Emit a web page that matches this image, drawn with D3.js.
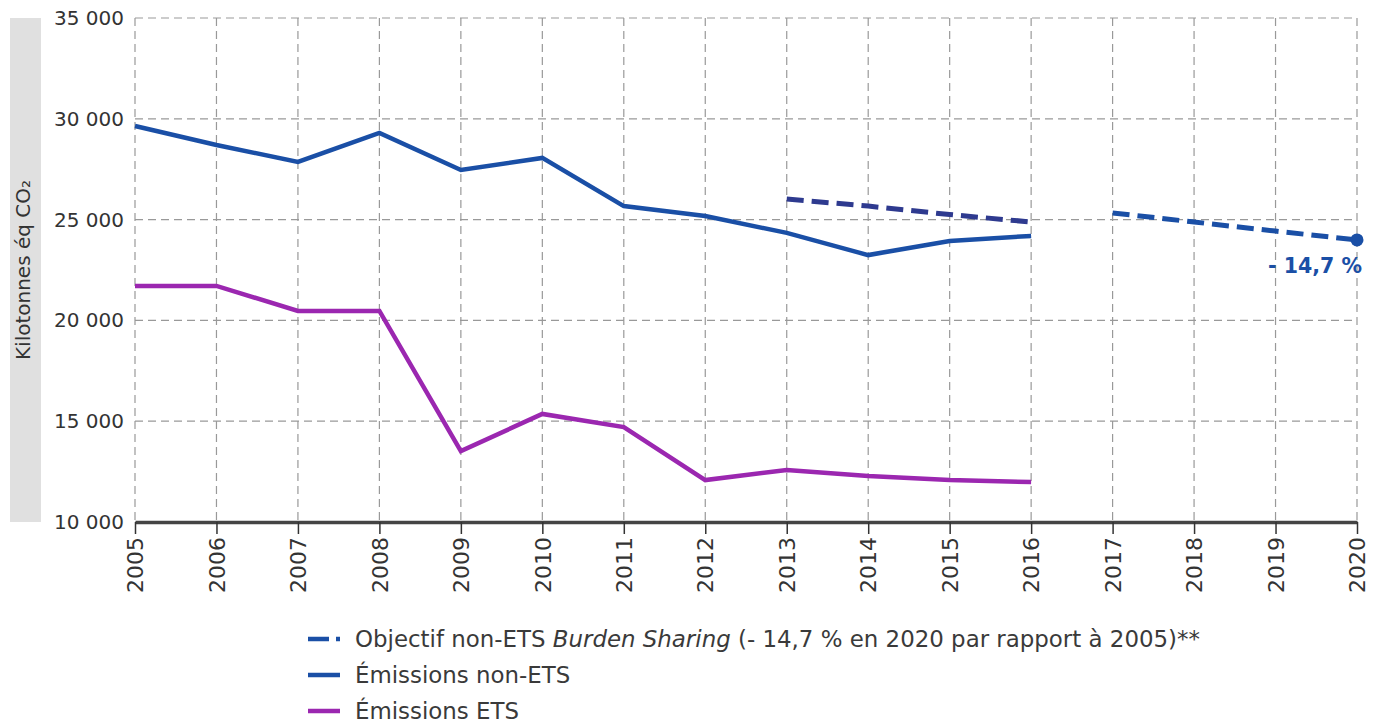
<!DOCTYPE html>
<html>
<head>
<meta charset="utf-8">
<script src="https://cdn.jsdelivr.net/npm/d3@7"></script>
<style>
  body { margin: 0; background: #fff; }
  svg { font-family: "DejaVu Sans", sans-serif; }
</style>
</head>
<body>
<svg id="chart" width="1380" height="723"></svg>
<script>
var years = [2005, 2006, 2007, 2008, 2009, 2010, 2011, 2012, 2013, 2014, 2015, 2016, 2017, 2018, 2019, 2020];
var yTicks = [10000, 15000, 20000, 25000, 30000, 35000];

var nonEtsYears = [2005, 2006, 2007, 2008, 2009, 2010, 2011, 2012, 2013, 2014, 2015, 2016];
var nonEts = [29640, 28700, 27860, 29300, 27460, 28060, 25670, 25180, 24340, 23240, 23940, 24190];
var ets = [21710, 21710, 20470, 20470, 13520, 15360, 14710, 12080, 12580, 12280, 12080, 11980];

var targetYearsA = [2013, 2014, 2015, 2016];
var targetA = [26020, 25670, 25250, 24880];
var targetYearsB = [2017, 2018, 2019, 2020];
var targetB = [25330, 24880, 24430, 23990];

var svg = d3.select("#chart");
var plotLeft = 135, plotRight = 1357, plotTop = 18, plotBottom = 522;

var x = d3.scaleLinear().domain([2005, 2020]).range([plotLeft, plotRight]);
var y = d3.scaleLinear().domain([10000, 35000]).range([plotBottom, plotTop]);
var fmt = function (d) { return d3.format(",")(d).replace(",", " "); };

// y title band
svg.append("rect").attr("x", 10).attr("y", plotTop).attr("width", 31).attr("height", plotBottom - plotTop).attr("fill", "#e0e0e0");
svg.append("text")
    .attr("transform", "translate(30," + 270 + ") rotate(-90)")
    .attr("text-anchor", "middle").attr("font-size", 20).attr("fill", "#333")
    .text("Kilotonnes éq CO₂");

// grid
svg.append("g").selectAll("line").data(yTicks.slice(1)).enter().append("line")
    .attr("x1", plotLeft).attr("x2", plotRight)
    .attr("y1", function (d) { return y(d); }).attr("y2", function (d) { return y(d); })
    .attr("stroke", "#999").attr("stroke-width", 1.2).attr("stroke-dasharray", "8,5");
svg.append("g").selectAll("line").data(years).enter().append("line")
    .attr("x1", function (d) { return x(d); }).attr("x2", function (d) { return x(d); })
    .attr("y1", plotTop).attr("y2", plotBottom)
    .attr("stroke", "#999").attr("stroke-width", 1.2).attr("stroke-dasharray", "8,5");

// y tick labels
svg.append("g").selectAll("text").data(yTicks).enter().append("text")
    .attr("x", plotLeft - 11).attr("y", function (d) { return y(d); }).attr("dy", "0.35em")
    .attr("text-anchor", "end").attr("font-size", 20).attr("fill", "#333")
    .text(fmt);

// x axis
var xAxis = svg.append("g").attr("transform", "translate(0," + plotBottom + ")")
    .call(d3.axisBottom(x).tickValues(years).tickFormat(d3.format("d")).tickSize(12).tickSizeOuter(0));
xAxis.select(".domain").attr("stroke", "#444").attr("stroke-width", 3.5);
xAxis.selectAll(".tick line").attr("stroke", "#333").attr("stroke-width", 1.5);
xAxis.selectAll(".tick text")
    .attr("font-size", 22).attr("font-family", "DejaVu Sans").attr("fill", "#333")
    .attr("transform", "rotate(-90)").attr("text-anchor", "end")
    .attr("x", -15).attr("y", 0).attr("dy", "0.35em");

var line = d3.line().x(function (d) { return x(d[0]); }).y(function (d) { return y(d[1]); });

svg.append("path").datum(d3.zip(nonEtsYears, ets)).attr("d", line)
    .attr("fill", "none").attr("stroke", "#9b27b0").attr("stroke-width", 4.5);
svg.append("path").datum(d3.zip(nonEtsYears, nonEts)).attr("d", line)
    .attr("fill", "none").attr("stroke", "#1a4fa6").attr("stroke-width", 4.5);
svg.append("path").datum(d3.zip(targetYearsA, targetA)).attr("d", line)
    .attr("fill", "none").attr("stroke", "#2e3a8f").attr("stroke-width", 5).attr("stroke-dasharray", "17,8");
svg.append("path").datum(d3.zip(targetYearsB, targetB)).attr("d", line)
    .attr("fill", "none").attr("stroke", "#1a4fa6").attr("stroke-width", 5).attr("stroke-dasharray", "17,8");

svg.append("circle").attr("cx", x(2020)).attr("cy", y(targetB[targetB.length - 1])).attr("r", 6.5).attr("fill", "#1a4fa6");
svg.append("text").attr("x", x(2020) + 5).attr("y", y(targetB[targetB.length - 1]) + 33)
    .attr("text-anchor", "end").attr("font-size", 20.5).attr("font-weight", "bold").attr("fill", "#1a4fa6")
    .text("- 14,7 %");

// legend
var legend = [
    { dash: "21,7,4", color: "#1a4fa6", parts: [["Objectif non-ETS ", false], ["Burden Sharing", true], [" (- 14,7 % en 2020 par rapport à 2005)**", false]] },
    { dash: null, color: "#1a4fa6", parts: [["Émissions non-ETS", false]] },
    { dash: null, color: "#9b27b0", parts: [["Émissions ETS", false]] }
];
var lg = svg.append("g").selectAll("g").data(legend).enter().append("g")
    .attr("transform", function (d, i) { return "translate(308," + (639 + i * 36) + ")"; });
lg.append("line").attr("x1", 0).attr("x2", 32).attr("y1", 0).attr("y2", 0)
    .attr("stroke", function (d) { return d.color; }).attr("stroke-width", 4.5)
    .attr("stroke-dasharray", function (d) { return d.dash; });
var lt = lg.append("text").attr("x", 47).attr("dy", "0.35em").attr("font-size", 22.9).attr("fill", "#3a3a3a");
lt.selectAll("tspan").data(function (d) { return d.parts; }).enter().append("tspan")
    .attr("font-style", function (p) { return p[1] ? "italic" : "normal"; })
    .text(function (p) { return p[0]; });
</script>
</body>
</html>
